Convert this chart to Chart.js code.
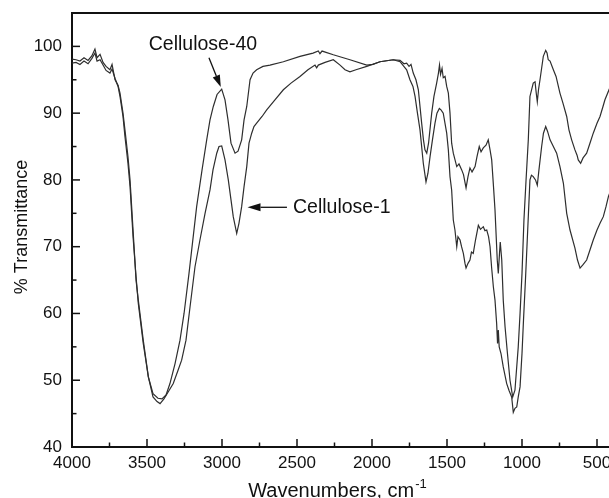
<!DOCTYPE html>
<html lang="en">
<head>
<meta charset="UTF-8">
<title>FTIR spectra of cellulose</title>
<script src="https://cdn.jsdelivr.net/npm/chart.js"></script>
<style>
    html, body {
        margin: 0;
        padding: 0;
        background: #fff;
    }
    canvas {
        display: block;
    }
</style>
</head>
<body>
<canvas id="ftirChart" width="609" height="498"></canvas>
<script>
// Wavenumbers (cm-1) and % transmittance
const cel40Wn = [4000, 3973, 3947, 3920, 3893, 3867, 3847, 3833, 3813, 3793,
    3773, 3747, 3733, 3713, 3693, 3680, 3660, 3647, 3627, 3613,
    3593, 3573, 3558, 3525, 3491, 3460, 3427, 3400, 3373, 3347,
    3313, 3280, 3253, 3220, 3169, 3133, 3102, 3080, 3058, 3033,
    3002, 2980, 2960, 2940, 2913, 2893, 2869, 2853, 2835, 2813,
    2793, 2769, 2727, 2680, 2591, 2480, 2393, 2358, 2347, 2333,
    2258, 2147, 2035, 1993, 1947, 1858, 1813, 1787, 1769, 1753,
    1740, 1725, 1707, 1691, 1669, 1657, 1647, 1635, 1623, 1602,
    1587, 1569, 1557, 1550, 1543, 1533, 1525, 1513, 1502, 1491,
    1480, 1469, 1458, 1435, 1420, 1402, 1390, 1373, 1360, 1347,
    1333, 1313, 1300, 1285, 1273, 1258, 1240, 1225, 1213, 1202,
    1190, 1180, 1165, 1158, 1150, 1145, 1135, 1125, 1113, 1097,
    1080, 1062, 1047, 1025, 1013, 1000, 987, 973, 958, 947,
    925, 913, 905, 898, 890, 880, 858, 842, 833, 825,
    813, 791, 773, 747, 727, 702, 687, 669, 647, 633,
    625, 609, 593, 569, 547, 525, 500, 480, 460, 447,
    420, 400];
const cel40T = [98.1, 98.0, 97.8, 98.3, 97.9, 98.6, 99.6, 98.3, 98.8, 97.6,
    97.0, 96.5, 97.3, 95.0, 94.2, 93.0, 90.0, 87.5, 83.5, 80.0,
    72.5, 65.0, 62.0, 56.0, 50.5, 48.0, 47.3, 47.2, 47.8, 49.5,
    52.5, 56.0, 60.0, 66.0, 76.0, 81.5, 86.0, 89.0, 91.0, 92.8,
    93.6, 92.0, 89.0, 85.5, 84.0, 84.3, 86.0, 89.0, 91.0, 95.0,
    96.0, 96.5, 97.0, 97.2, 97.7, 98.5, 99.0, 99.3, 98.9, 99.3,
    98.75, 98.0, 97.2, 97.3, 97.7, 98.0, 97.9, 97.4, 97.5, 97.0,
    97.3, 96.0, 95.0, 93.5, 88.5, 86.0, 84.5, 84.0, 85.5, 90.0,
    92.5, 94.5, 96.0, 97.2, 95.8, 96.7, 95.3, 95.5, 94.0, 93.0,
    90.0, 85.5, 84.0, 82.0, 82.4, 81.5, 80.8, 78.8, 80.5, 81.8,
    81.2, 82.0, 83.5, 85.0, 84.2, 84.8, 85.2, 86.0, 84.5, 83.0,
    79.0, 75.5, 68.0, 66.0, 69.0, 70.7, 68.0, 62.0, 58.0, 54.0,
    50.0, 47.5, 48.5, 55.0, 60.0, 66.0, 74.0, 80.0, 86.0, 92.5,
    94.5, 94.7, 93.0, 91.7, 93.5, 95.0, 98.5, 99.4, 99.0, 98.0,
    97.8, 96.5, 95.5, 93.0, 91.5, 89.5, 87.5, 86.0, 84.5, 83.7,
    83.0, 82.5, 83.3, 84.0, 85.5, 87.0, 88.5, 89.5, 91.0, 92.0,
    93.5, 94.5];

const cel1Wn = [4000, 3973, 3947, 3920, 3893, 3867, 3847, 3833, 3813, 3793,
    3773, 3747, 3733, 3713, 3693, 3680, 3660, 3647, 3627, 3613,
    3593, 3573, 3558, 3525, 3491, 3460, 3433, 3413, 3387, 3360,
    3325, 3293, 3269, 3240, 3213, 3180, 3147, 3113, 3080, 3060,
    3035, 3020, 3002, 2980, 2958, 2940, 2925, 2902, 2887, 2869,
    2853, 2835, 2820, 2802, 2787, 2769, 2733, 2702, 2647, 2591,
    2540, 2480, 2427, 2380, 2369, 2358, 2313, 2258, 2213, 2180,
    2147, 2107, 2035, 1947, 1858, 1813, 1769, 1747, 1727, 1713,
    1697, 1680, 1658, 1640, 1627, 1613, 1597, 1580, 1567, 1551,
    1540, 1525, 1502, 1491, 1480, 1469, 1458, 1447, 1435, 1427,
    1413, 1403, 1391, 1380, 1373, 1360, 1347, 1337, 1325, 1310,
    1291, 1277, 1258, 1247, 1235, 1223, 1213, 1203, 1191, 1180,
    1169, 1163, 1158, 1152, 1140, 1125, 1102, 1087, 1069, 1058,
    1047, 1035, 1025, 1013, 1000, 990, 977, 967, 957, 947,
    937, 925, 910, 898, 887, 869, 857, 842, 830, 813,
    791, 769, 747, 724, 702, 680, 647, 630, 613, 593,
    569, 547, 525, 500, 480, 458, 440, 424, 400];
const cel1T = [97.5, 97.6, 97.3, 97.8, 97.4, 98.2, 99.0, 97.8, 98.0, 97.2,
    96.4, 96.0, 96.6, 95.2, 94.0, 92.5, 89.5, 86.5, 82.5, 79.0,
    71.5, 65.5, 61.5, 55.5, 50.5, 47.5, 46.8, 46.5, 47.2, 48.2,
    49.5, 51.5, 53.0, 56.0, 61.0, 67.0, 71.0, 75.0, 78.5, 81.5,
    84.0, 85.0, 85.1, 83.0, 80.0, 77.0, 74.5, 72.0, 73.5, 76.0,
    79.0, 82.0, 85.5, 87.0, 88.0, 88.5, 89.5, 90.5, 92.0, 93.5,
    94.5, 95.5, 96.5, 97.2, 96.8, 97.2, 97.6, 98.0, 97.2, 96.5,
    96.2, 96.5, 97.0, 97.7, 98.0, 97.7, 96.5, 95.0, 94.0, 92.5,
    90.0, 87.5, 82.5, 79.7, 81.0, 83.5, 86.0, 88.5, 90.0, 90.7,
    90.5, 90.0, 87.0, 84.5, 80.5, 78.5, 74.0, 72.5, 70.0, 71.5,
    71.0, 70.0, 69.0, 67.5, 66.8, 67.5, 68.0, 69.2, 69.0, 71.0,
    73.2, 72.6, 73.0, 72.4, 72.5, 71.5, 70.0, 67.0, 64.0, 62.0,
    58.5, 55.5, 57.5, 55.0, 54.0, 52.0, 49.5, 48.5, 47.5, 45.2,
    45.8, 46.0, 47.5, 49.0, 54.0, 59.0, 65.0, 70.0, 75.0, 80.0,
    80.7, 80.5, 80.0, 79.2, 81.5, 85.0, 87.0, 88.0, 87.3, 86.0,
    85.0, 84.0, 82.0, 79.5, 75.0, 72.5, 69.8, 68.0, 66.8, 67.3,
    68.0, 69.5, 71.0, 72.5, 73.5, 74.5, 76.0, 77.5, 79.0];

const seriesNames = ['Cellulose-40', 'Cellulose-1'];
const xTicks = [4000, 3500, 3000, 2500, 2000, 1500, 1000, 500];
const xMinorTicks = [3750, 3250, 2750, 2250, 1750, 1250, 750];
const yTicks = [40, 50, 60, 70, 80, 90, 100];
const yMinorTicks = [45, 55, 65, 75, 85, 95];

const FONT = '"Liberation Sans", Arial, Helvetica, sans-serif';
const INK = '#111';

function toPoints(wn, t) {
    return wn.map((w, i) => ({ x: w, y: t[i] }));
}

function drawArrow(ctx, x1, y1, x2, y2, headLen, headHalf) {
    const ang = Math.atan2(y2 - y1, x2 - x1);
    const bx = x2 - headLen * Math.cos(ang);
    const by = y2 - headLen * Math.sin(ang);
    ctx.beginPath();
    ctx.moveTo(x1, y1);
    ctx.lineTo(bx, by);
    ctx.stroke();
    ctx.beginPath();
    ctx.moveTo(x2, y2);
    ctx.lineTo(bx + headHalf * Math.sin(ang), by - headHalf * Math.cos(ang));
    ctx.lineTo(bx - headHalf * Math.sin(ang), by + headHalf * Math.cos(ang));
    ctx.closePath();
    ctx.fill();
}

// inward tick marks, top frame line and axis titles
const frameDecor = {
    id: 'frameDecor',
    afterDatasetsDraw(chart) {
        const { ctx, chartArea: a, scales: { x, y } } = chart;
        ctx.save();
        ctx.strokeStyle = INK;
        ctx.fillStyle = INK;
        ctx.lineWidth = 2;
        ctx.beginPath();
        ctx.moveTo(a.left - 1, a.top);
        ctx.lineTo(a.right, a.top);
        ctx.stroke();

        ctx.lineWidth = 1.5;
        const tick = (x1, y1, x2, y2) => {
            ctx.beginPath();
            ctx.moveTo(x1, y1);
            ctx.lineTo(x2, y2);
            ctx.stroke();
        };
        xTicks.forEach(v => { const p = x.getPixelForValue(v); tick(p, a.bottom, p, a.bottom - 8); });
        xMinorTicks.forEach(v => { const p = x.getPixelForValue(v); tick(p, a.bottom, p, a.bottom - 4.5); });
        yTicks.forEach(v => { const p = y.getPixelForValue(v); tick(a.left, p, a.left + 8, p); });
        yMinorTicks.forEach(v => { const p = y.getPixelForValue(v); tick(a.left, p, a.left + 4.5, p); });

        // x title with superscript
        const main = 'Wavenumbers, cm';
        const sup = '-1';
        ctx.font = '20px ' + FONT;
        const wMain = ctx.measureText(main).width;
        ctx.font = '13px ' + FONT;
        const wSup = ctx.measureText(sup).width;
        const startX = (a.left + a.right) / 2 - 3 - (wMain + wSup + 1) / 2;
        ctx.textAlign = 'left';
        ctx.textBaseline = 'alphabetic';
        ctx.font = '20px ' + FONT;
        ctx.fillText(main, startX, 497);
        ctx.font = '13px ' + FONT;
        ctx.fillText(sup, startX + wMain + 1, 488);

        // y title
        ctx.save();
        ctx.translate(22, (a.top + a.bottom) / 2 - 3);
        ctx.rotate(-Math.PI / 2);
        ctx.font = '18px ' + FONT;
        ctx.textAlign = 'center';
        ctx.textBaseline = 'middle';
        ctx.fillText('% Transmittance', 0, 0);
        ctx.restore();
        ctx.restore();
    }
};

// series labels with arrows
const seriesLabels = {
    id: 'seriesLabels',
    afterDatasetsDraw(chart) {
        const { ctx, scales: { x, y } } = chart;
        ctx.save();
        ctx.fillStyle = INK;
        ctx.strokeStyle = INK;
        ctx.lineWidth = 1.3;
        ctx.font = '19.5px ' + FONT;
        ctx.textBaseline = 'middle';

        ctx.textAlign = 'center';
        ctx.fillText(seriesNames[0], x.getPixelForValue(3127), y.getPixelForValue(100.2));
        drawArrow(ctx, x.getPixelForValue(3087), y.getPixelForValue(98.3),
            x.getPixelForValue(3008), y.getPixelForValue(93.9), 12, 3.8);

        ctx.textAlign = 'left';
        ctx.fillText(seriesNames[1], x.getPixelForValue(2527), y.getPixelForValue(75.9));
        drawArrow(ctx, x.getPixelForValue(2567), y.getPixelForValue(75.9),
            x.getPixelForValue(2830), y.getPixelForValue(75.9), 13, 4);
        ctx.restore();
    }
};

const lineStyle = {
    borderColor: '#2e2e2e',
    borderWidth: 1.2,
    pointRadius: 0,
    tension: 0,
    fill: false
};

new Chart(document.getElementById('ftirChart'), {
    type: 'line',
    data: {
        datasets: [
            Object.assign({ label: seriesNames[0], data: toPoints(cel40Wn, cel40T) }, lineStyle),
            Object.assign({ label: seriesNames[1], data: toPoints(cel1Wn, cel1T) }, lineStyle)
        ]
    },
    options: {
        responsive: false,
        animation: false,
        devicePixelRatio: 1,
        layout: { padding: { top: 13, left: 0, right: 0, bottom: 0 } },
        plugins: {
            legend: { display: false },
            tooltip: { enabled: false }
        },
        scales: {
            x: {
                type: 'linear',
                reverse: true,
                min: 420,
                max: 4000,
                afterBuildTicks: scale => { scale.ticks = xTicks.map(v => ({ value: v })); },
                afterFit: scale => {
                    scale.height = 51;
                    scale.paddingLeft = 0;
                    scale.paddingRight = 0;
                },
                grid: { display: false, drawTicks: false },
                border: { display: true, color: INK, width: 2 },
                ticks: {
                    padding: 6,
                    maxRotation: 0,
                    autoSkip: false,
                    color: INK,
                    font: { family: FONT, size: 17 },
                    callback: v => String(v)
                }
            },
            y: {
                min: 40,
                max: 105,
                afterBuildTicks: scale => { scale.ticks = yTicks.map(v => ({ value: v })); },
                afterFit: scale => {
                    scale.width = 72;
                    scale.paddingTop = 0;
                    scale.paddingBottom = 0;
                },
                grid: { display: false, drawTicks: false },
                border: { display: true, color: INK, width: 2 },
                ticks: {
                    padding: 10,
                    autoSkip: false,
                    color: INK,
                    font: { family: FONT, size: 17 },
                    callback: v => String(v)
                }
            }
        }
    },
    plugins: [frameDecor, seriesLabels]
});
</script>
</body>
</html>
